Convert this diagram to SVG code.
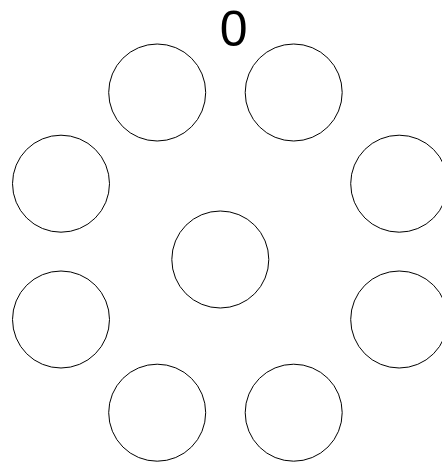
<svg xmlns="http://www.w3.org/2000/svg" width="442" height="465" viewBox="0 0 442 465">
<style>
.n{fill:#fff;stroke:#000;stroke-width:1}
.t{font-family:"Liberation Sans",Arial,sans-serif;font-size:50px;fill:#000;text-anchor:middle}
</style>
<rect width="442" height="465" fill="#fff"/>
<g id="connectors"></g>
<text class="t" x="233.7" y="45.5">0</text>
<g id="n1"><circle class="n" cx="157.2" cy="92.5" r="48.5"/></g>
<g id="n2"><circle class="n" cx="293.7" cy="92.5" r="48.5"/></g>
<g id="n3"><circle class="n" cx="61" cy="183.7" r="48.5"/></g>
<g id="n4"><circle class="n" cx="399.2" cy="183.7" r="48.5"/></g>
<g id="n5"><circle class="n" cx="220.3" cy="259.5" r="48.5"/></g>
<g id="n6"><circle class="n" cx="61" cy="319.5" r="48.5"/></g>
<g id="n7"><circle class="n" cx="399.2" cy="319.5" r="48.5"/></g>
<g id="n8"><circle class="n" cx="157.2" cy="412.7" r="48.5"/></g>
<g id="n9"><circle class="n" cx="293.7" cy="412.7" r="48.5"/></g>
</svg>
